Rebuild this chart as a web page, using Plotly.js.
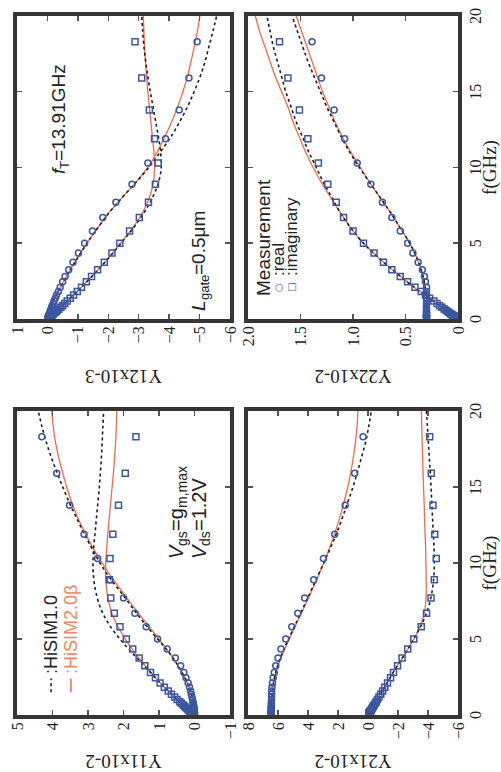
<!DOCTYPE html>
<html>
<head>
<meta charset="utf-8">
<script src="https://cdn.plot.ly/plotly-3.0.1.min.js"></script>
<style>
  html, body { margin: 0; padding: 0; background: #fff; }
  body { width: 501px; height: 772px; overflow: hidden; position: relative; }
  /* the four-panel figure is laid out landscape and turned a quarter turn */
  #chart {
    position: absolute; left: 0; top: 0;
    width: 772px; height: 501px;
    transform-origin: 0 0;
    transform: translate(0px, 772px) rotate(-90deg);
  }
</style>
</head>
<body>
<div id="chart"></div>
<script>
// measurement frequencies (GHz)
const freqMeas = [0.1, 0.12, 0.14, 0.16, 0.18, 0.21, 0.24, 0.28, 0.32, 0.37, 0.43, 0.5, 0.57, 0.66, 0.77, 0.88,
  1.02, 1.18, 1.37, 1.58, 1.82, 2.1, 2.45, 2.8, 3.25, 3.75, 4.35, 5.0, 5.8, 6.7, 7.7, 8.9, 10.3, 11.9, 13.8, 15.9, 18.3];
// model frequencies (GHz)
const freqModel = [0, 0.5, 1, 1.5, 2, 3, 4, 5, 6, 7, 8, 9, 10, 11, 12, 13, 14, 15, 16, 17, 18, 19, 20];

// Y11 (x1e-2)
const y11MeasRe = [0.001, 0.001, 0.002, 0.002, 0.003, 0.004, 0.005, 0.007, 0.009, 0.011, 0.014, 0.018, 0.022, 0.028, 0.036, 0.045,
  0.057, 0.072, 0.09, 0.11, 0.14, 0.18, 0.24, 0.3, 0.39, 0.54, 0.77, 1.04, 1.36, 1.68, 2.0, 2.38, 2.73, 3.11, 3.52, 3.88, 4.30];
const y11MeasIm = [0.05, 0.06, 0.07, 0.08, 0.09, 0.1, 0.12, 0.14, 0.16, 0.18, 0.21, 0.25, 0.28, 0.32, 0.37, 0.42,
  0.49, 0.56, 0.65, 0.74, 0.85, 0.97, 1.1, 1.24, 1.4, 1.56, 1.74, 1.92, 2.1, 2.26, 2.36, 2.4, 2.38, 2.3, 2.14, 1.95, 1.65];
const y11H1Re = [0, 0.011, 0.045, 0.1, 0.18, 0.4, 0.68, 1.04, 1.4, 1.73, 2.05, 2.38, 2.66, 2.9, 3.12, 3.33, 3.53, 3.71, 3.88, 4.04, 4.18, 4.3, 4.4];
const y11H1Im = [0, 0.24, 0.48, 0.7, 0.92, 1.32, 1.72, 2.1, 2.42, 2.64, 2.77, 2.84, 2.86, 2.84, 2.8, 2.76, 2.72, 2.68, 2.65, 2.62, 2.6, 2.58, 2.56];
const y11H2Re = [0, 0.011, 0.045, 0.1, 0.18, 0.4, 0.68, 1.0, 1.34, 1.68, 2.0, 2.32, 2.6, 2.86, 3.09, 3.29, 3.46, 3.6, 3.72, 3.83, 3.92, 3.98, 4.02];
const y11H2Im = [0, 0.24, 0.48, 0.7, 0.92, 1.3, 1.65, 1.95, 2.2, 2.37, 2.46, 2.5, 2.5, 2.47, 2.44, 2.4, 2.36, 2.32, 2.28, 2.25, 2.22, 2.2, 2.19];

// Y12 (x1e-3)
const y12MeasRe = [-0.02, -0.023, -0.027, -0.03, -0.035, -0.04, -0.045, -0.05, -0.06, -0.07, -0.08, -0.09, -0.1, -0.12, -0.14, -0.16,
  -0.19, -0.22, -0.26, -0.3, -0.36, -0.42, -0.5, -0.58, -0.7, -0.84, -1.02, -1.22, -1.48, -1.82, -2.25, -2.78, -3.3, -3.88, -4.33, -4.65, -4.92];
const y12MeasIm = [-0.06, -0.07, -0.08, -0.09, -0.1, -0.12, -0.14, -0.16, -0.18, -0.21, -0.25, -0.29, -0.33, -0.38, -0.44, -0.5,
  -0.57, -0.65, -0.75, -0.86, -0.98, -1.12, -1.28, -1.45, -1.65, -1.87, -2.12, -2.38, -2.7, -3.02, -3.32, -3.55, -3.64, -3.52, -3.35, -3.1, -2.88];
const y12H1Re = [0, -0.07, -0.16, -0.27, -0.4, -0.68, -0.98, -1.3, -1.65, -2.02, -2.45, -2.9, -3.33, -3.7, -4.05, -4.34, -4.6, -4.82, -5.02, -5.18, -5.31, -5.44, -5.56];
const y12H1Im = [0, -0.29, -0.56, -0.82, -1.07, -1.55, -2.0, -2.42, -2.82, -3.17, -3.45, -3.65, -3.74, -3.72, -3.65, -3.56, -3.47, -3.38, -3.3, -3.23, -3.17, -3.13, -3.1];
const y12H2Re = [0, -0.07, -0.16, -0.27, -0.4, -0.68, -0.98, -1.3, -1.65, -2.02, -2.45, -2.9, -3.3, -3.6, -3.85, -4.08, -4.28, -4.45, -4.6, -4.72, -4.83, -4.93, -5.01];
const y12H2Im = [0, -0.29, -0.56, -0.82, -1.07, -1.55, -2.0, -2.4, -2.8, -3.12, -3.35, -3.48, -3.52, -3.5, -3.45, -3.4, -3.35, -3.3, -3.26, -3.22, -3.19, -3.17, -3.15];

// Y21 (x1e-2)
const y21MeasRe = [6.45, 6.45, 6.45, 6.45, 6.45, 6.45, 6.45, 6.45, 6.45, 6.45, 6.45, 6.45, 6.45, 6.44, 6.44, 6.44,
  6.43, 6.43, 6.42, 6.42, 6.4, 6.37, 6.32, 6.25, 6.15, 6.0, 5.8, 5.48, 5.08, 4.68, 4.22, 3.62, 2.97, 2.22, 1.52, 0.89, 0.33];
const y21MeasIm = [-0.06, -0.07, -0.08, -0.1, -0.11, -0.13, -0.15, -0.17, -0.2, -0.23, -0.27, -0.31, -0.35, -0.41, -0.48, -0.55,
  -0.63, -0.73, -0.85, -0.98, -1.12, -1.3, -1.5, -1.7, -1.97, -2.27, -2.65, -3.05, -3.55, -3.9, -4.2, -4.42, -4.55, -4.45, -4.33, -4.22, -4.11];
const y21H1Re = [6.45, 6.44, 6.42, 6.38, 6.32, 6.1, 5.75, 5.3, 4.82, 4.35, 3.88, 3.42, 2.95, 2.5, 2.08, 1.7, 1.35, 1.0, 0.7, 0.42, 0.15, -0.05, -0.22];
const y21H1Im = [0, -0.3, -0.6, -0.9, -1.2, -1.8, -2.45, -3.05, -3.6, -4.0, -4.25, -4.38, -4.42, -4.4, -4.35, -4.3, -4.25, -4.2, -4.15, -4.08, -4.02, -3.96, -3.89];
const y21H2Re = [6.45, 6.44, 6.42, 6.38, 6.32, 6.08, 5.7, 5.25, 4.78, 4.3, 3.83, 3.38, 2.95, 2.56, 2.2, 1.88, 1.6, 1.35, 1.14, 0.97, 0.83, 0.73, 0.67];
const y21H2Im = [0, -0.3, -0.6, -0.9, -1.2, -1.8, -2.45, -3.05, -3.55, -3.8, -3.88, -3.88, -3.86, -3.84, -3.8, -3.77, -3.74, -3.7, -3.67, -3.64, -3.61, -3.58, -3.56];

// Y22 (x1e-2)
const y22MeasRe = [0.3, 0.3, 0.3, 0.3, 0.3, 0.3, 0.3, 0.3, 0.3, 0.3, 0.3, 0.3, 0.3, 0.3, 0.3, 0.3,
  0.3, 0.3, 0.3, 0.3, 0.3, 0.3, 0.31, 0.32, 0.34, 0.38, 0.43, 0.48, 0.55, 0.63, 0.72, 0.83, 0.96, 1.08, 1.18, 1.3, 1.39];
const y22MeasIm = [0.02, 0.024, 0.028, 0.032, 0.036, 0.042, 0.048, 0.056, 0.064, 0.074, 0.086, 0.1, 0.114, 0.132, 0.154, 0.176,
  0.2, 0.23, 0.27, 0.31, 0.35, 0.41, 0.48, 0.55, 0.63, 0.71, 0.8, 0.9, 1.0, 1.09, 1.16, 1.24, 1.33, 1.43, 1.51, 1.62, 1.70];
const y22H1Re = [0.3, 0.3, 0.3, 0.3, 0.31, 0.34, 0.39, 0.46, 0.55, 0.64, 0.74, 0.84, 0.94, 1.03, 1.11, 1.18, 1.25, 1.31, 1.37, 1.43, 1.48, 1.53, 1.58];
const y22H1Im = [0, 0.1, 0.2, 0.3, 0.4, 0.58, 0.75, 0.9, 1.02, 1.12, 1.2, 1.28, 1.35, 1.42, 1.48, 1.54, 1.59, 1.64, 1.68, 1.72, 1.76, 1.79, 1.82];
const y22H2Re = [0.3, 0.3, 0.3, 0.3, 0.31, 0.34, 0.39, 0.46, 0.55, 0.64, 0.74, 0.84, 0.93, 1.02, 1.1, 1.17, 1.23, 1.29, 1.34, 1.39, 1.44, 1.49, 1.54];
const y22H2Im = [0, 0.1, 0.2, 0.3, 0.4, 0.58, 0.75, 0.9, 1.02, 1.12, 1.21, 1.3, 1.38, 1.45, 1.51, 1.57, 1.62, 1.68, 1.74, 1.79, 1.84, 1.89, 1.93];

// axis labels
const yTitles = ['Y11x10-2', 'Y12x10-3', 'Y21x10-2', 'Y22x10-2'];
const xTitle = 'f(GHz)';
const fTicks = [0, 5, 10, 15, 20];
const y22Ticks = [0, 0.5, 1, 1.5, 2];
const y22TickText = ['0', '0.5', '1.0', '1.5', '2.0'];

const BLUE = '#3b57a0';
const ORANGE = '#f26a4b';
const DOT = '#1e1e1e';
const SERIF = 'Liberation Serif, Times New Roman, serif';
const SANS_NAME = 'Liberation Sans';
const SANS = 'Liberation Sans, Arial, sans-serif';

function meas(y, sym, xa, ya) {
  return { x: freqMeas, y: y, xaxis: xa, yaxis: ya, type: 'scatter', mode: 'markers', hoverinfo: 'skip',
    marker: { symbol: sym, size: 6, color: BLUE, line: { color: BLUE, width: 1.5 } } };
}
function model(y, isH1, xa, ya) {
  return { x: freqModel, y: y, xaxis: xa, yaxis: ya, type: 'scatter', mode: 'lines', hoverinfo: 'skip',
    line: isH1 ? { color: DOT, width: 1.6, dash: 'dot', shape: 'spline' } : { color: ORANGE, width: 1.3, shape: 'spline' } };
}

const panels = [
  { xa: 'x',  ya: 'y',  re: y11MeasRe, im: y11MeasIm, h1: [y11H1Re, y11H1Im], h2: [y11H2Re, y11H2Im] },
  { xa: 'x2', ya: 'y2', re: y12MeasRe, im: y12MeasIm, h1: [y12H1Re, y12H1Im], h2: [y12H2Re, y12H2Im] },
  { xa: 'x3', ya: 'y3', re: y21MeasRe, im: y21MeasIm, h1: [y21H1Re, y21H1Im], h2: [y21H2Re, y21H2Im] },
  { xa: 'x4', ya: 'y4', re: y22MeasRe, im: y22MeasIm, h1: [y22H1Re, y22H1Im], h2: [y22H2Re, y22H2Im] }
];

const traces = [];
panels.forEach(p => {
  traces.push(model(p.h2[0], false, p.xa, p.ya), model(p.h2[1], false, p.xa, p.ya));
  traces.push(model(p.h1[0], true, p.xa, p.ya), model(p.h1[1], true, p.xa, p.ya));
  traces.push(meas(p.re, 'circle-open', p.xa, p.ya), meas(p.im, 'square-open', p.xa, p.ya));
});

function frame(extra) {
  return Object.assign({
    showline: true, linewidth: 4, linecolor: '#363636', mirror: 'ticks',
    ticks: 'inside', ticklen: 5, tickwidth: 1.5, tickcolor: '#555',
    showgrid: false, zeroline: false, fixedrange: true,
    tickfont: { family: SERIF, size: 16, color: '#222' }
  }, extra);
}

const colL = [0.0738, 0.4676], colR = [0.5868, 0.9793];
const rowT = [0.5409, 0.9661], rowB = [0.0858, 0.5050];
const titleFont = { family: SERIF, size: 19, color: '#222' };

function fAxis(domain, anchor, labelled) {
  const a = frame({ domain: domain, anchor: anchor, range: [0, 20], tickvals: fTicks, showticklabels: labelled });
  if (labelled) a.title = { text: xTitle, font: titleFont, standoff: 4 };
  return a;
}

// label with subscripts: each run becomes its own annotation, placed after the previous one
const measureCtx = document.createElement('canvas').getContext('2d');
function richLabel(xref, yref, x, y, runs, size) {
  const out = [];
  let shift = 0;
  runs.forEach(r => {
    const fs = r.sub ? Math.round(size * 0.7) : size;
    measureCtx.font = (r.italic ? 'italic ' : '') + fs + 'px "' + SANS_NAME + '"';
    out.push({ xref: xref, yref: yref, x: x, y: y, xanchor: 'left', yanchor: 'middle', showarrow: false,
      borderpad: 0, xshift: shift, yshift: r.sub ? -Math.round(size * 0.3) : 0, text: r.t,
      font: { family: SANS, size: fs, color: '#222', style: r.italic ? 'italic' : 'normal' } });
    shift += measureCtx.measureText(r.t).width;
  });
  return out;
}

const annotations = [
  { xref: 'x', yref: 'y', x: 2.55, y: 4.04, xanchor: 'left', yanchor: 'middle', showarrow: false,
    text: ':HiSIM1.0', font: { family: SANS, size: 18, color: '#222' } },
  { xref: 'x', yref: 'y', x: 2.55, y: 3.48, xanchor: 'left', yanchor: 'middle', showarrow: false,
    text: ':HiSIM2.0β', font: { family: SANS, size: 18, color: '#f0875a' } },
  ...richLabel('x', 'y', 10.2, 0.51, [{ t: 'V', italic: true }, { t: 'gs', sub: true }, { t: '=g' }, { t: 'm,max', sub: true }], 20),
  ...richLabel('x', 'y', 10.2, -0.12, [{ t: 'V', italic: true }, { t: 'ds', sub: true }, { t: '=1.2V' }], 20),
  ...richLabel('x2', 'y2', 9.5, -0.35, [{ t: 'f', italic: true }, { t: 'T', sub: true }, { t: '=13.91GHz' }], 19),
  ...richLabel('x2', 'y2', 0.46, -4.95, [{ t: 'L', italic: true }, { t: 'gate', sub: true }, { t: '=0.5μm' }], 19),
  { xref: 'x4', yref: 'y4', x: 1.39, y: 1.85, xanchor: 'left', yanchor: 'middle', showarrow: false,
    text: 'Measurement', font: { family: SANS, size: 19, color: '#222' } },
  { xref: 'x4', yref: 'y4', x: 2.05, y: 1.705, xanchor: 'center', yanchor: 'middle', showarrow: false,
    text: '○', font: { family: 'DejaVu Sans, sans-serif', size: 10, color: BLUE } },
  { xref: 'x4', yref: 'y4', x: 2.7, y: 1.705, xanchor: 'left', yanchor: 'middle', showarrow: false,
    text: ':real', font: { family: SANS, size: 17, color: '#222' } },
  { xref: 'x4', yref: 'y4', x: 2.05, y: 1.585, xanchor: 'center', yanchor: 'middle', showarrow: false,
    text: '□', font: { family: 'DejaVu Sans, sans-serif', size: 10, color: BLUE } },
  { xref: 'x4', yref: 'y4', x: 2.7, y: 1.585, xanchor: 'left', yanchor: 'middle', showarrow: false,
    text: ':imaginary', font: { family: SANS, size: 17, color: '#222' } }
];

const layout = {
  width: 772, height: 501,
  margin: { l: 0, r: 0, t: 0, b: 0 },
  paper_bgcolor: '#fff', plot_bgcolor: '#fff',
  showlegend: false,
  font: { family: SERIF, size: 16, color: '#222' },
  xaxis:  fAxis(colL, 'y', false),
  xaxis2: fAxis(colR, 'y2', false),
  xaxis3: fAxis(colL, 'y3', true),
  xaxis4: fAxis(colR, 'y4', true),
  yaxis:  frame({ domain: rowT, anchor: 'x',  range: [-1, 5], dtick: 1, title: { text: yTitles[0], font: titleFont } }),
  yaxis2: frame({ domain: rowT, anchor: 'x2', range: [-6, 1], dtick: 1, title: { text: yTitles[1], font: titleFont } }),
  yaxis3: frame({ domain: rowB, anchor: 'x3', range: [-6, 8], dtick: 2, title: { text: yTitles[2], font: titleFont } }),
  yaxis4: frame({ domain: rowB, anchor: 'x4', range: [0, 2], tickvals: y22Ticks, ticktext: y22TickText, title: { text: yTitles[3], font: titleFont } }),
  shapes: [
    { type: 'line', xref: 'x', yref: 'y', x0: 1.5, x1: 2.4, y0: 4.04, y1: 4.04, line: { color: DOT, width: 1.6, dash: 'dot' } },
    { type: 'line', xref: 'x', yref: 'y', x0: 1.5, x1: 2.4, y0: 3.48, y1: 3.48, line: { color: ORANGE, width: 1.5 } }
  ],
  annotations: annotations
};

Plotly.newPlot('chart', traces, layout, { staticPlot: true, displayModeBar: false });
</script>
</body>
</html>
